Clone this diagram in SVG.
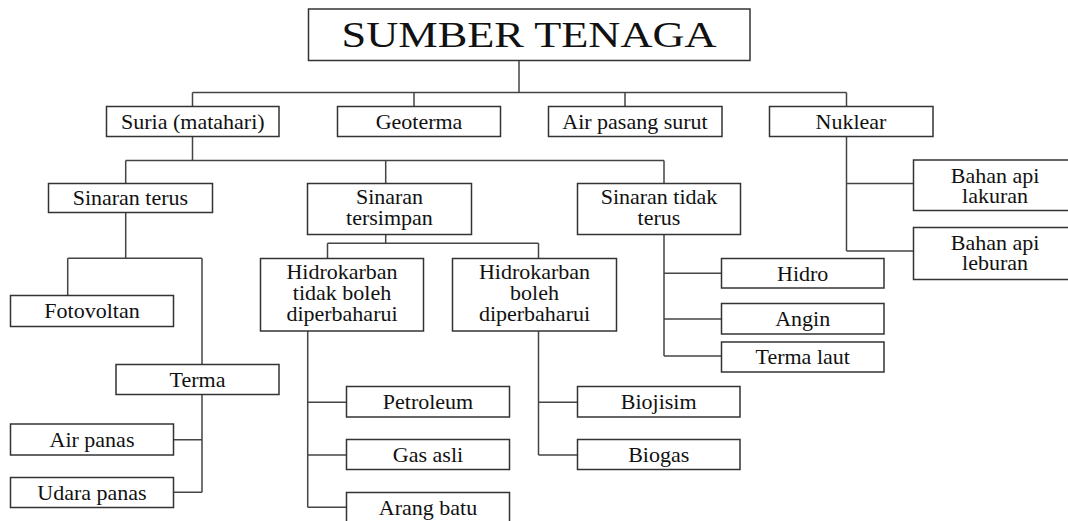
<svg xmlns="http://www.w3.org/2000/svg" width="1068" height="521" viewBox="0 0 1068 521">
<style>
rect{fill:#fff;stroke:#333;stroke-width:1.5}
.c path{fill:none;stroke:#444;stroke-width:1.5}
text{font-family:"Liberation Serif","Times New Roman",serif;font-size:22px;fill:#111;text-anchor:middle}
.t{font-size:35px}
</style>
<rect x="0" y="0" width="1068" height="521" style="stroke:none"/>
<g class="c" id="connectors">
<path d="M519 60.5V92.5M192.5 92.5H846.5M192.5 92.5V106.5M414 92.5V106.5M625 92.5V106.5M846.5 92.5V106.5"/>
<path d="M192.5 136.5V160.5M125.7 160.5H664M125.7 160.5V183.5M385.7 160.5V183.5M664 160.5V183.5"/>
<path d="M846.5 136.5V251M846.5 183.5H913.5M846.5 251H913.5"/>
<path d="M125.7 212.5V258.3M67.7 258.3H202M67.7 258.3V295.5M202 258.3V364.5M202 394.5V492.3M173.5 439.7H202M173.5 492.3H202"/>
<path d="M385.7 234.5V243.3M327.5 243.3H538.5M327.5 243.3V258.5M538.5 243.3V258.5"/>
<path d="M307.7 331V507.3M307.7 402.3H346.5M307.7 455H346.5M307.7 507.3H346.5"/>
<path d="M538.5 331V455M538.5 402.3H577.5M538.5 455H577.5"/>
<path d="M664 234.5V356M664 273.3H721.5M664 319H721.5M664 356H721.5"/>
</g>
<g id="n-title"><rect x="308.5" y="9" width="441.5" height="51.5"/><text class="t" x="529" y="47" textLength="375" lengthAdjust="spacingAndGlyphs">SUMBER TENAGA</text></g>
<g id="n-suria"><rect x="106.5" y="106.5" width="172.5" height="30"/><text x="192.8" y="129">Suria (matahari)</text></g>
<g id="n-geoterma"><rect x="337.5" y="106.5" width="163" height="30"/><text x="419" y="129">Geoterma</text></g>
<g id="n-airpasang"><rect x="548.5" y="106.5" width="173.5" height="30"/><text x="635" y="129">Air pasang surut</text></g>
<g id="n-nuklear"><rect x="769.5" y="106.5" width="163.5" height="30"/><text x="851" y="129">Nuklear</text></g>
<g id="n-sinaranterus"><rect x="48.5" y="183.5" width="164" height="29"/><text x="130.4" y="205">Sinaran terus</text></g>
<g id="n-tersimpan"><rect x="307.5" y="183.5" width="164" height="51"/><text x="389.5" y="204">Sinaran</text><text x="389.5" y="225">tersimpan</text></g>
<g id="n-tidakterus"><rect x="577.5" y="183.5" width="163" height="51"/><text x="659" y="204">Sinaran tidak</text><text x="659" y="225">terus</text></g>
<g id="n-lakuran"><rect x="913.5" y="160" width="165" height="50.5"/><text x="995" y="182.5">Bahan api</text><text x="995" y="202.5">lakuran</text></g>
<g id="n-leburan"><rect x="913.5" y="227.5" width="165" height="52"/><text x="995" y="250">Bahan api</text><text x="995" y="270">leburan</text></g>
<g id="n-fotovoltan"><rect x="10.5" y="295.5" width="163" height="31"/><text x="92" y="318">Fotovoltan</text></g>
<g id="n-terma"><rect x="116" y="364.5" width="163" height="30"/><text x="197.5" y="387">Terma</text></g>
<g id="n-airpanas"><rect x="10.5" y="424" width="163" height="31"/><text x="92" y="447">Air panas</text></g>
<g id="n-udarapanas"><rect x="10.5" y="477.5" width="163" height="30"/><text x="92" y="500">Udara panas</text></g>
<g id="n-hktidak"><rect x="260.5" y="258.5" width="163" height="72.5"/><text x="342" y="279">Hidrokarban</text><text x="342" y="300">tidak boleh</text><text x="342" y="321">diperbaharui</text></g>
<g id="n-hkboleh"><rect x="452.5" y="258.5" width="164" height="72.5"/><text x="534.5" y="279">Hidrokarban</text><text x="534.5" y="300">boleh</text><text x="534.5" y="321">diperbaharui</text></g>
<g id="n-petroleum"><rect x="346.5" y="386.5" width="163" height="30.5"/><text x="428" y="409">Petroleum</text></g>
<g id="n-gasasli"><rect x="346.5" y="439.5" width="163" height="30"/><text x="428" y="462">Gas asli</text></g>
<g id="n-arangbatu"><rect x="346.5" y="492.5" width="163" height="31"/><text x="428" y="514.5">Arang batu</text></g>
<g id="n-biojisim"><rect x="577.5" y="386.5" width="162.5" height="30.5"/><text x="658.7" y="409">Biojisim</text></g>
<g id="n-biogas"><rect x="577.5" y="439.5" width="162.5" height="30"/><text x="658.7" y="462">Biogas</text></g>
<g id="n-hidro"><rect x="721.5" y="258.5" width="162.5" height="29.5"/><text x="802.7" y="280.5">Hidro</text></g>
<g id="n-angin"><rect x="721.5" y="303.5" width="162.5" height="30.5"/><text x="802.7" y="326">Angin</text></g>
<g id="n-termalaut"><rect x="721.5" y="342" width="162.5" height="30"/><text x="802.7" y="364">Terma laut</text></g>
</svg>
